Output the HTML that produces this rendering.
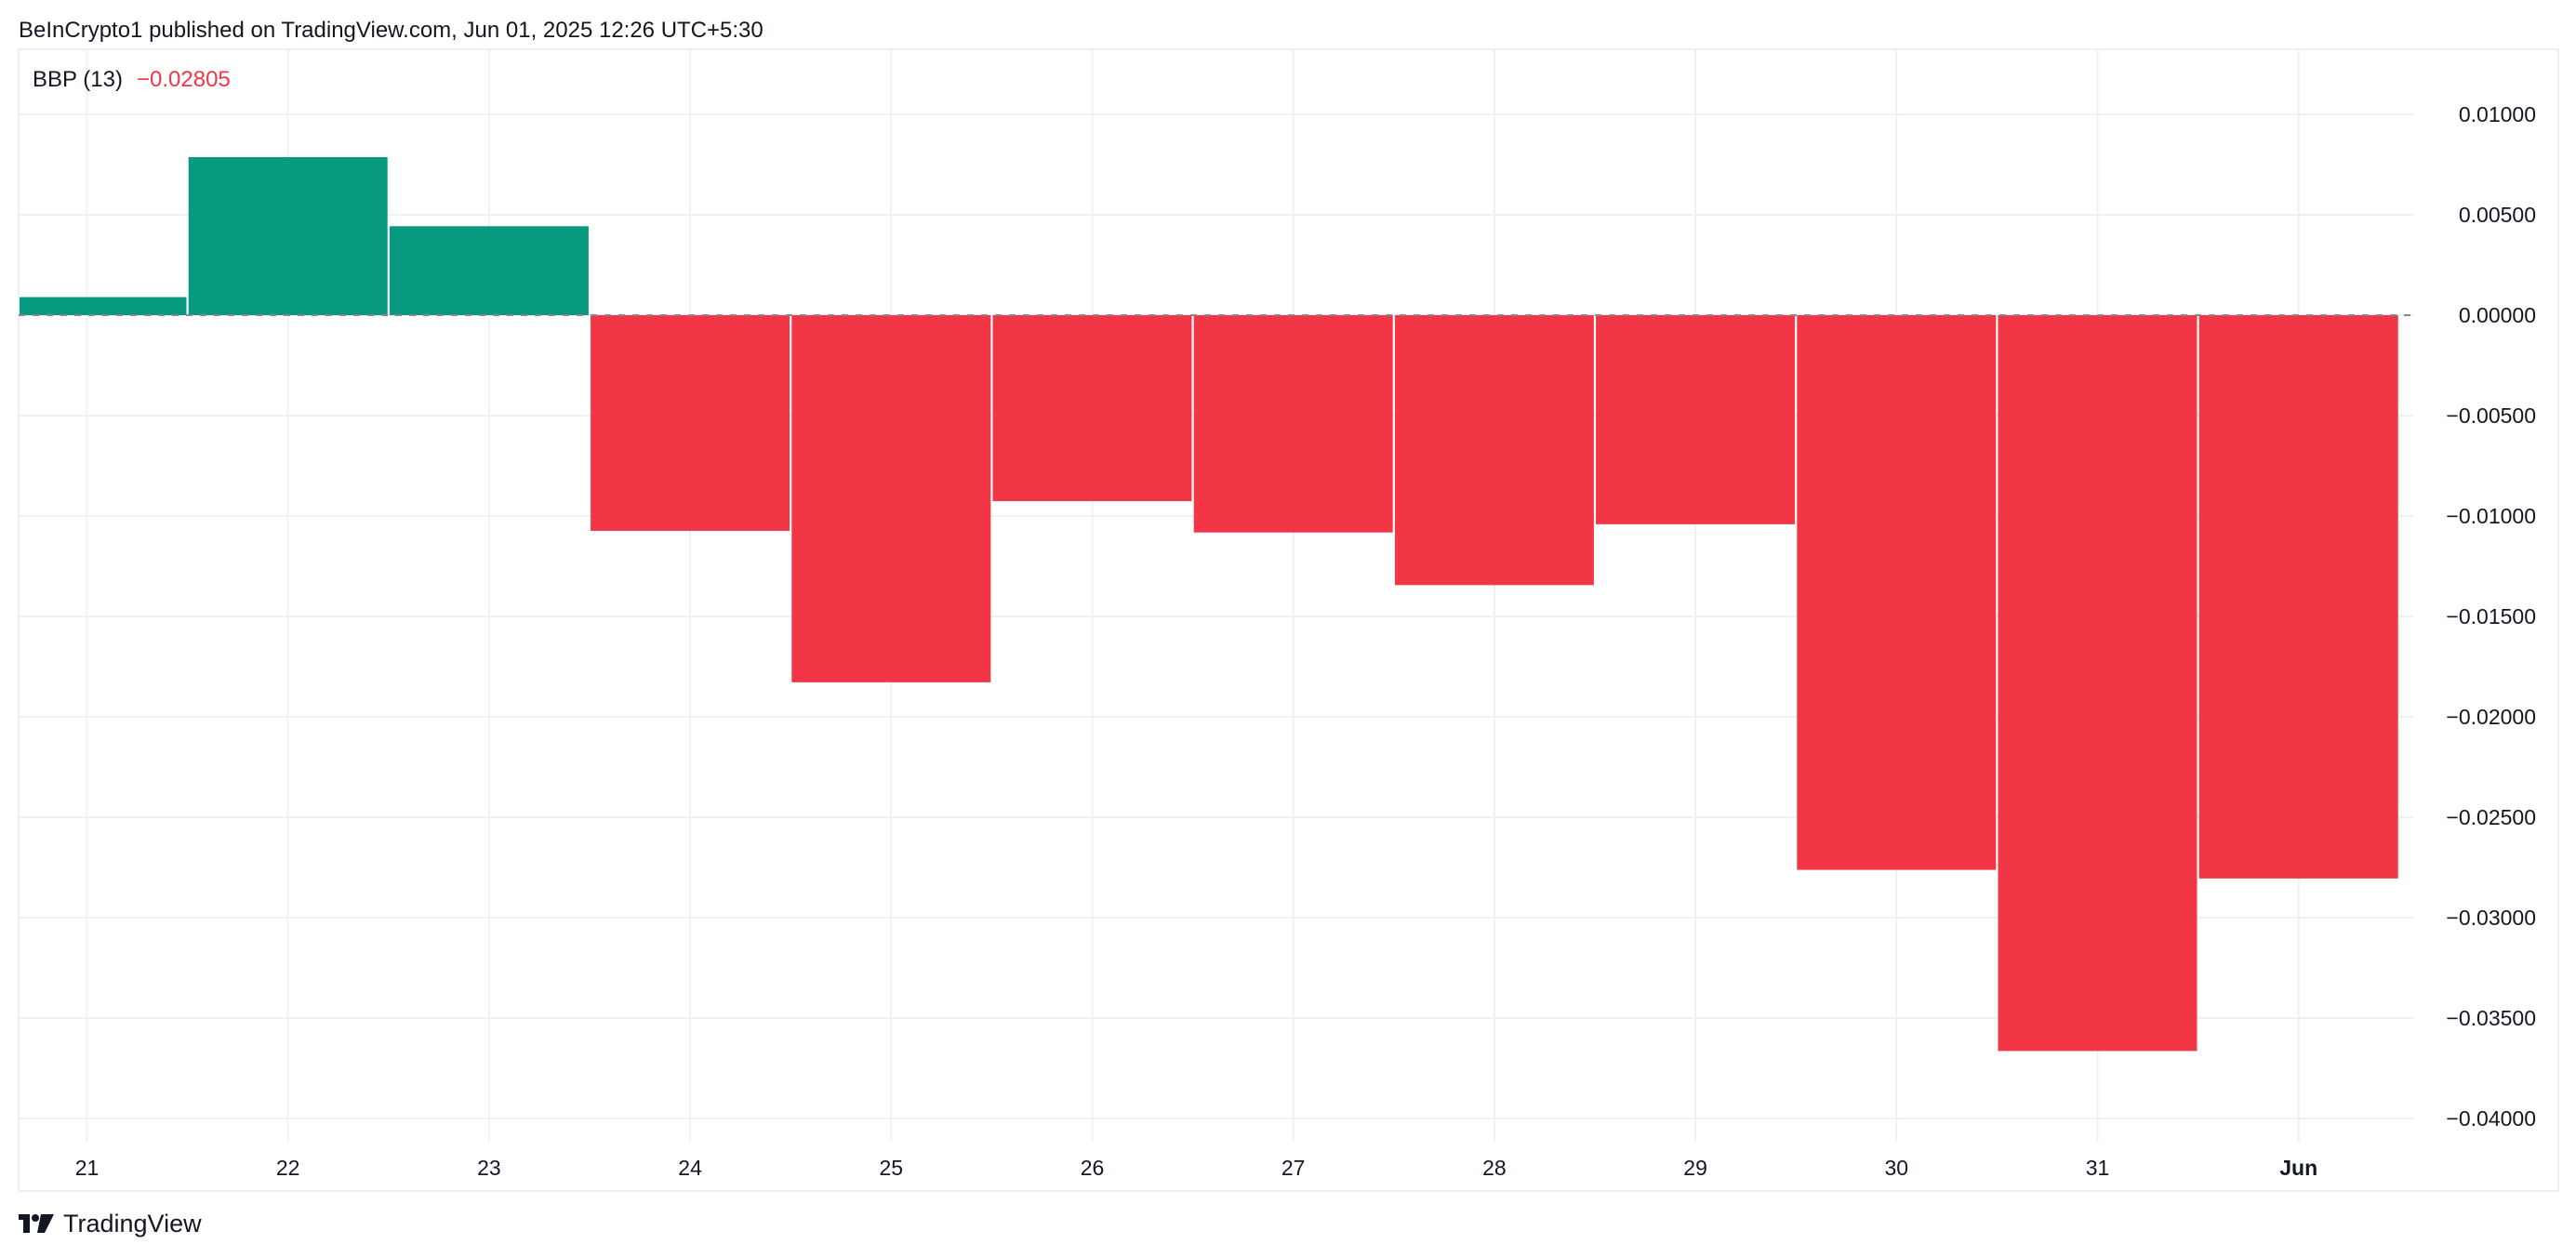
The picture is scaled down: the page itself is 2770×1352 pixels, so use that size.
<!DOCTYPE html>
<html><head><meta charset="utf-8">
<style>
html,body{margin:0;padding:0;background:#fff;}
body{width:2770px;height:1352px;overflow:hidden;font-family:"Liberation Sans",sans-serif;}
svg{display:block}
</style></head>
<body>
<svg id="chart" width="2770" height="1352" xmlns="http://www.w3.org/2000/svg">
<text x="20" y="40" font-size="24" fill="#131722">BeInCrypto1 published on TradingView.com, Jun 01, 2025 12:26 UTC+5:30</text>
<rect x="20" y="53" width="2731" height="1228" fill="none" stroke="#eef0f3" stroke-width="2"/>
<g id="grid"></g>
<g id="bars"></g>
<line id="zero" x1="20" x2="2595" stroke="#888" stroke-width="2" stroke-dasharray="7,8"/>
<g id="yaxis"></g>
<g id="xaxis"></g>
<text x="35" y="93" font-size="24" fill="#131722">BBP (13)</text>
<text x="147" y="93" font-size="24" fill="#f23645">−0.02805</text>
<g>
<rect x="20" y="1306" width="12" height="6" fill="#131722"/>
<rect x="25" y="1306" width="7" height="20" fill="#131722"/>
<circle cx="38" cy="1310" r="4" fill="#131722"/>
<polygon points="44,1306 58,1306 48,1326 40,1326" fill="#131722"/>
<text x="68" y="1325" font-size="27" fill="#131722">TradingView</text>
</g>
</svg>
<script>
const categories = ["21","22","23","24","25","26","27","28","29","30","31","Jun"];
const bbpValues = [0.0009,0.00787,0.00443,-0.01074,-0.01828,-0.00926,-0.01082,-0.01344,-0.01041,-0.02762,-0.03664,-0.02805];
const yTicks = [0.01,0.005,0,-0.005,-0.01,-0.015,-0.02,-0.025,-0.03,-0.035,-0.04];
const yTickLabels = ["0.01000","0.00500","0.00000","−0.00500","−0.01000","−0.01500","−0.02000","−0.02500","−0.03000","−0.03500","−0.04000"];
const NS="http://www.w3.org/2000/svg";
const plotLeft=20, plotRight=2595, plotTop=54, plotBottom=1228;
function y(v){return 339 - v*21600;}
function x(i){return 93.5 + i*216.2;}
function mk(tag,attrs,parent){const e=document.createElementNS(NS,tag);for(const k in attrs)e.setAttribute(k,attrs[k]);parent.appendChild(e);return e;}
const grid=document.getElementById('grid'),bars=document.getElementById('bars'),ya=document.getElementById('yaxis'),xa=document.getElementById('xaxis');
yTicks.forEach((t,i)=>{
  const l=mk('line',{x1:plotLeft,x2:plotRight,y1:y(t),y2:y(t),stroke:'#f0f1f3','stroke-width':2},grid);
  
  
  const tx=mk('text',{x:2727,y:y(t)+8,'font-size':23,fill:'#131722','text-anchor':'end'},ya);
  tx.textContent=yTickLabels[i];
  
  
});
categories.forEach((c,i)=>{
  const l=mk('line',{x1:x(i),x2:x(i),y1:plotTop,y2:plotBottom,stroke:'#f0f1f3','stroke-width':2},grid);
  
  
  const tx=mk('text',{x:x(i),y:1264,'font-size':23,fill:'#131722','text-anchor':'middle','font-weight':c==='Jun'?'bold':'normal'},xa);
  tx.textContent=c;
  
  
  const v=bbpValues[i];
  let x0=x(i)-107, x1=x(i)+107;
  if(x0<21)x0=21;
  const r=mk('rect',{x:x0,width:x1-x0,y:Math.min(y(v),y(0)),height:Math.abs(y(v)-y(0)),fill:v>=0?'#089981':'#f23645'},bars);
  
  
});
const z=document.getElementById('zero');z.setAttribute('y1',y(0));z.setAttribute('y2',y(0));
</script>
</body></html>
